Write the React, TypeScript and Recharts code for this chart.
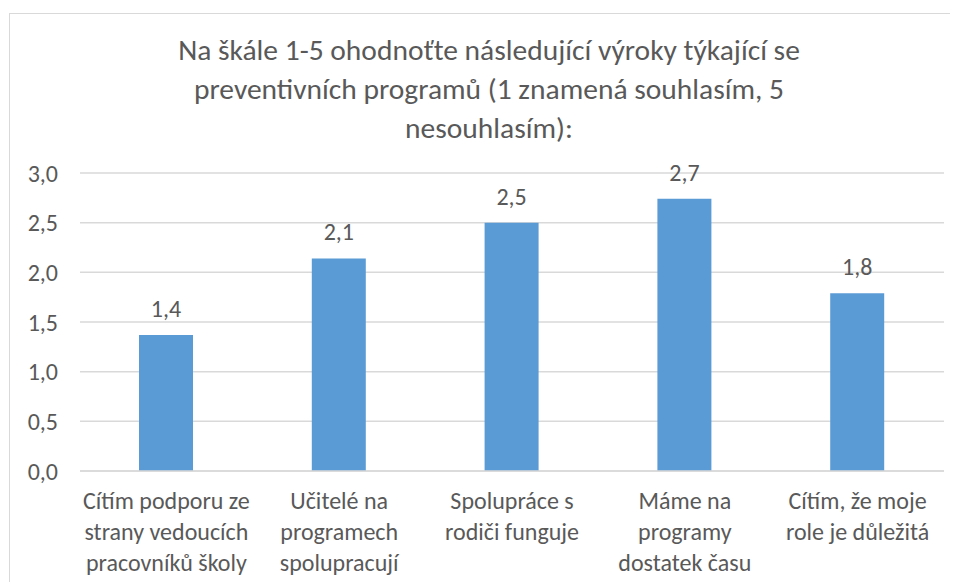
import React from "react";
import { BarChart, Bar, XAxis, YAxis, CartesianGrid, LabelList } from "recharts";

const titleLines = [
  "Na škále 1-5 ohodnoťte následující výroky týkající se",
  "preventivních programů (1 znamená souhlasím, 5",
  "nesouhlasím):",
];

const categories = [
  "Cítím podporu ze strany vedoucích pracovníků školy",
  "Učitelé na programech spolupracují",
  "Spolupráce s rodiči funguje",
  "Máme na programy dostatek času",
  "Cítím, že moje role je důležitá",
];

const categoryLines = [
  ["Cítím podporu ze", "strany vedoucích", "pracovníků školy"],
  ["Učitelé na", "programech", "spolupracují"],
  ["Spolupráce s", "rodiči funguje"],
  ["Máme na", "programy", "dostatek času"],
  ["Cítím, že moje", "role je důležitá"],
];

const values = [1.37, 2.14, 2.5, 2.74, 1.79];

const yTicks = [0, 0.5, 1, 1.5, 2, 2.5, 3];

const data = categories.map((c, i) => ({ name: c, value: values[i], idx: i }));

const FONT = "Carlito, 'Liberation Sans Narrow', 'Open Sans', sans-serif";
const TEXT = "#595959";

const fmt = (v: number) => v.toFixed(1).replace(".", ",");

const CatTick = (props: any) => {
  const { x, y, index } = props;
  const lines = categoryLines[index] || [];
  return (
    <g transform={`translate(${x},${y})`}>
      {lines.map((l, i) => (
        <text
          key={i}
          x={0}
          y={30 + i * 31}
          textAnchor="middle"
          fill={TEXT}
          fontSize={24}
          fontFamily={FONT}
        >
          {l}
        </text>
      ))}
    </g>
  );
};

export default function App() {
  return (
    <div style={{ position: "relative", width: 950, height: 574, overflow: "hidden", background: "#fff" }}>
      <div
        style={{
          position: "absolute",
          left: 1,
          top: 5,
          width: 2000,
          height: 2000,
          border: "1.5px solid #d9d9d9",
          boxSizing: "border-box",
        }}
      />
      <div
        style={{
          position: "absolute",
          left: 0,
          top: 23,
          width: 962,
          textAlign: "center",
          fontFamily: FONT,
          fontSize: 29.5,
          lineHeight: "39px",
          color: TEXT,
          whiteSpace: "nowrap",
        }}
      >
        {titleLines.map((l, i) => (
          <div key={i}>{l}</div>
        ))}
      </div>
      <div style={{ position: "absolute", left: 0, top: 0 }}>
        <BarChart
          width={950}
          height={574}
          data={data}
          margin={{ top: 165, right: 14, bottom: 0, left: 0 }}
          barCategoryGap="0%"
        >
          <CartesianGrid vertical={false} stroke="#d9d9d9" strokeWidth={1.5} />
          <XAxis
            dataKey="name"
            interval={0}
            height={111}
            tickLine={false}
            axisLine={{ stroke: "#d9d9d9", strokeWidth: 1.5 }}
            tick={<CatTick />}
          />
          <YAxis
            width={72}
            domain={[0, 3]}
            ticks={yTicks}
            tickFormatter={fmt}
            axisLine={false}
            tickLine={false}
            tick={{ fill: TEXT, fontSize: 24, fontFamily: FONT }}
            tickMargin={16}
          />
          <Bar dataKey="value" fill="#5B9BD5" barSize={54} isAnimationActive={false}>
            <LabelList
              dataKey="value"
              position="top"
              offset={18}
              formatter={(v: any) => fmt(Number(v))}
              fill={TEXT}
              fontSize={24}
              fontFamily={FONT}
            />
          </Bar>
        </BarChart>
      </div>
    </div>
  );
}
